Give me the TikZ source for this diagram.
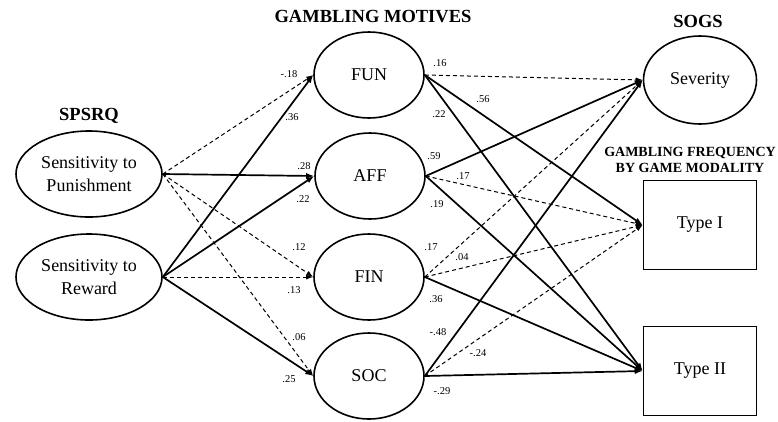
\documentclass[tikz,border=0pt]{standalone}
\usepackage{fontspec}
\setmainfont{Liberation Serif}
\usetikzlibrary{shapes.geometric,arrows.meta}

\tikzset{
  latent/.style={ellipse, draw, line width=1.6pt, inner sep=0pt, align=center,
    font=\fontsize{18}{23}\selectfont},
  observed/.style={rectangle, draw, line width=1.6pt, minimum width=113pt,
    minimum height=89pt, font=\fontsize{18}{23}\selectfont},
  heading/.style={font=\fontsize{18.5}{22}\selectfont\bfseries, align=center},
  subheading/.style={font=\fontsize{14}{16}\selectfont\bfseries, align=center},
  sig/.style={line width=1.7pt, -{Latex[length=8pt,width=6pt]}},
  nonsig/.style={line width=1pt, dash pattern=on 4pt off 3pt, -{Latex[length=7pt,width=5pt]}},
  coef/.style={font=\fontsize{10.5}{12}\selectfont, inner sep=0pt},
}

\begin{document}
\begin{tikzpicture}[x=1pt,y=-1pt]
\useasboundingbox (0,0) rectangle (778,421);

% headings
\node[heading] (spsrq) at (89,116) {SPSRQ};
\node[heading] (motives) at (373,17) {GAMBLING MOTIVES};
\node[heading] (sogs) at (698,21) {SOGS};
\node[subheading] (freq) at (690,160) {GAMBLING FREQUENCY\\BY GAME MODALITY};

% SPSRQ scales
\node[latent, minimum width=146pt, minimum height=86pt] (sp) at (89,174) {Sensitivity to\\Punishment};
\node[latent, minimum width=146pt, minimum height=86pt] (sr) at (89,277) {Sensitivity to\\Reward};

% motives
\node[latent, minimum width=110pt, minimum height=86pt] (fun) at (369,75) {FUN};
\node[latent, minimum width=110pt, minimum height=86pt] (aff) at (370,176) {AFF};
\node[latent, minimum width=110pt, minimum height=86pt] (fin) at (369,277) {FIN};
\node[latent, minimum width=110pt, minimum height=86pt] (soc) at (369,376) {SOC};

% outcomes
\node[latent, minimum width=113pt, minimum height=88pt] (sev) at (700,80) {Severity};
\node[observed] (t1) at (700,225) {Type I};
\node[observed] (t2) at (700,371) {Type II};

% SPSRQ -> motives
\foreach \a/\b/\s/\v/\lx/\ly in {
    sp/fun/nonsig/-.18/289/74, sp/aff/sig/.28/304/166,
    sp/fin/nonsig/.12/299/247, sp/soc/nonsig/.06/299/337,
    sr/fun/sig/.36/292/117, sr/aff/sig/.22/303/199,
    sr/fin/nonsig/.13/294/290, sr/soc/sig/.25/289/379} {
    \draw[\s] (\a.east) -- (\b.west);
    \node[coef] (\a-\b) at (\lx,\ly) {\v};
}

% motives -> SOGS and frequency
\foreach \a/\b/\s/\v/\lx/\ly in {
    fun/sev/nonsig/.16/440/63, fun/t1/sig/.56/483/99, fun/t2/sig/.22/439/114,
    aff/sev/sig/.59/434/156, aff/t1/nonsig/.17/463/176, aff/t2/sig/.19/437/204,
    fin/sev/nonsig/.17/431/247, fin/t1/nonsig/.04/462/257, fin/t2/sig/.36/436/299,
    soc/sev/sig/-.48/438/332, soc/t1/nonsig/-.24/478/353, soc/t2/sig/-.29/442/391} {
    \draw[\s] (\a.east) -- (\b.west);
    \node[coef] (\a-\b) at (\lx,\ly) {\v};
}
\end{tikzpicture}
\end{document}
